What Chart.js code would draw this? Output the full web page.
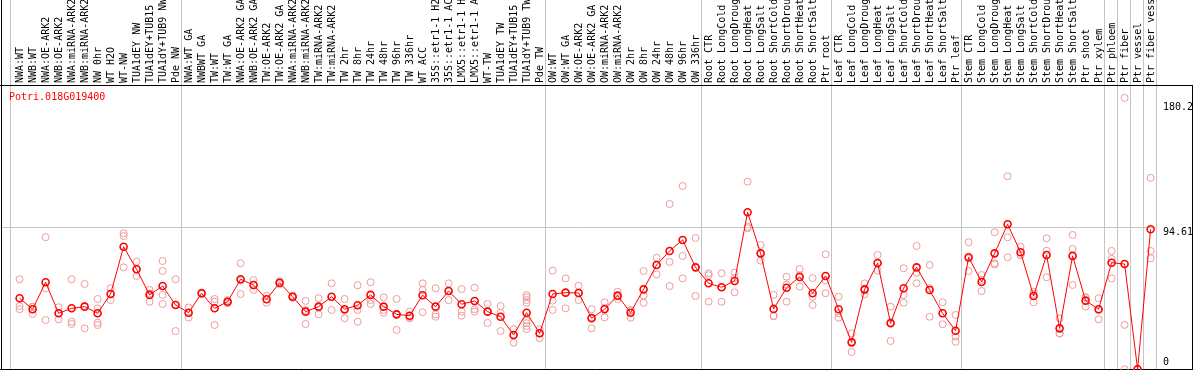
<html>
<head>
    <title>Potri.018G019400</title>
    <script src="https://cdn.jsdelivr.net/npm/chart.js@4.4.1/dist/chart.umd.min.js"></script>
    <style>
        body { margin: 0; background: #fff; }
        #wrap { width: 1194px; height: 370px; }
    </style>
</head>
<body>
<div id="wrap"><canvas id="chart" width="1194" height="370"></canvas></div>
<script>
    const geneName = 'Potri.018G019400';

    const labels = [
        'NWA:WT', 'NWB:WT', 'NWA:OE-ARK2', 'NWB:OE-ARK2', 'NWA:miRNA-ARK2', 'NWB:miRNA-ARK2',
        'NW 0hr', 'WT H2O', 'WT-NW', 'TUA1dEY NW', 'TUA1dEY+TUB15', 'TUA1dY+TUB9 NW', 'Pde NW',
        'NWA:WT GA', 'NWBWT GA', 'TW:WT', 'TW:WT GA', 'NWA:OE-ARK2 GA', 'NWB:OE-ARK2 GA',
        'TW:OE-ARK2', 'TW:OE-ARK2 GA', 'NWA:miRNA-ARK2', 'NWB:miRNA-ARK2', 'TW:miRNA-ARK2',
        'TW:miRNA-ARK2', 'TW 2hr', 'TW 8hr', 'TW 24hr', 'TW 48hr', 'TW 96hr', 'TW 336hr',
        'WT ACC', '35S::etr1-1 H2', '35S::etr1-1 AC', 'LMX5::etr1-1 H', 'LMX5::etr1-1 A',
        'WT-TW', 'TUA1dEY TW', 'TUA1dEY+TUB15', 'TUA1dY+TUB9 TW', 'Pde TW',
        'OW:WT', 'OW:WT GA', 'OW:OE-ARK2', 'OW:OE-ARK2 GA', 'OW:miRNA-ARK2', 'OW:miRNA-ARK2',
        'OW 2hr', 'OW 8hr', 'OW 24hr', 'OW 48hr', 'OW 96hr', 'OW 336hr',
        'Root CTR', 'Root LongCold', 'Root LongDroug', 'Root LongHeat', 'Root LongSalt',
        'Root ShortCold', 'Root ShortDrou', 'Root ShortHeat', 'Root ShortSalt', 'Ptr root',
        'Leaf CTR', 'Leaf LongCold', 'Leaf LongDroug', 'Leaf LongHeat', 'Leaf LongSalt',
        'Leaf ShortCold', 'Leaf ShortDrou', 'Leaf ShortHeat', 'Leaf ShortSalt', 'Ptr leaf',
        'Stem CTR', 'Stem LongCold', 'Stem LongDroug', 'Stem LongHeat', 'Stem LongSalt',
        'Stem ShortCold', 'Stem ShortDrou', 'Stem ShortHeat', 'Stem ShortSalt', 'Ptr shoot',
        'Ptr xylem', 'Ptr phloem', 'Ptr fiber', 'Ptr vessel', 'Ptr fiber vess'
    ];

    // last index of each sample group (separator drawn after it)
    const groupEnds = [12, 40, 52, 62, 72, 83, 84, 85, 86, 87];

    const means = [
        47.2, 39.9, 57.8, 37.2, 40.5, 41.6, 37.2, 50.0, 81.4, 66.4,
        49.4, 55.3, 42.7, 37.6, 50.5, 40.5, 44.9, 59.8, 56.0, 46.5,
        57.5, 48.2, 38.3, 41.6, 48.2, 39.9, 42.5, 49.4, 41.6, 36.5,
        35.6, 49.2, 41.6, 52.0, 43.2, 45.4, 38.3, 34.9, 22.8, 37.6,
        23.9, 50.0, 50.9, 50.7, 33.9, 39.9, 48.9, 37.6, 53.1, 69.3,
        78.6, 85.9, 67.7, 57.1, 54.5, 58.6, 104.3, 77.0, 40.1, 54.2,
        61.3, 50.5, 62.0, 39.9, 17.9, 53.1, 70.6, 30.6, 53.8, 67.7,
        52.7, 37.2, 25.6, 74.4, 58.0, 77.0, 96.3, 77.7, 48.7, 75.9,
        27.2, 75.3, 45.6, 39.9, 70.8, 69.9, 0, 93.0
    ];

    const replicates = [
        [59.8, 42.0, 39.9], [41.6, 41.4, 36.7], [87.7, 53.8, 32.7], [41.2, 37.2, 33.2],
        [59.8, 31.6, 30.1], [56.7, 42.0, 27.2], [46.7, 40.5, 31.0, 29.4], [53.8, 50.0, 46.0],
        [90.3, 88.5, 67.7], [71.5, 66.4, 62.0], [52.7, 50.4, 44.9], [71.9, 65.3, 49.4, 43.4],
        [59.8, 42.9, 25.4], [41.0, 37.6, 34.3], [51.0, 50.5, 50.0], [46.7, 44.9, 29.4],
        [46.0, 44.9, 43.8], [70.4, 59.0, 50.0], [59.3, 56.0, 52.7], [48.7, 46.5, 44.2],
        [58.5, 57.5, 56.5], [49.0, 48.2, 47.4], [45.4, 39.4, 30.1], [47.2, 41.1, 36.5],
        [57.1, 48.1, 39.4], [46.7, 39.1, 33.9], [55.8, 39.4, 31.6], [57.8, 46.0, 43.4],
        [47.8, 39.4, 37.6], [46.7, 36.7, 26.1], [38.3, 34.6, 33.9], [57.1, 52.7, 37.9],
        [53.8, 36.5, 34.9], [57.1, 52.0, 46.0], [53.3, 38.3, 35.6], [54.2, 39.9, 38.3],
        [43.4, 38.3, 30.8], [42.0, 37.5, 25.4], [26.6, 22.8, 17.7],
        [49.3, 47.8, 46.0, 44.2, 32.3, 30.6, 28.8, 26.6],
        [26.6, 23.9, 20.6], [65.5, 45.6, 39.4], [60.4, 50.9, 40.5], [55.5, 50.7, 46.0],
        [39.9, 34.6, 27.2], [44.5, 40.7, 34.5], [51.5, 48.5, 46.7], [39.4, 39.1, 34.3],
        [65.3, 48.9, 44.2], [74.1, 69.3, 63.1], [109.8, 71.3, 55.3], [121.7, 75.3, 60.4],
        [87.2, 67.7, 48.7], [63.8, 62.5, 44.9], [63.8, 54.5, 44.9], [64.2, 60.5, 51.1],
        [124.6, 94.6, 93.7], [82.6, 77.0, 72.1], [49.4, 35.6, 35.3], [61.5, 56.2, 44.9],
        [66.6, 62.4, 54.9], [60.6, 48.2, 42.7], [76.4, 59.1, 50.5], [48.2, 37.2, 34.3],
        [23.9, 18.3, 11.5], [57.1, 52.4, 49.8], [75.9, 70.4, 65.5], [41.6, 31.4, 18.8],
        [67.1, 49.4, 44.2], [81.9, 64.1, 57.1], [69.3, 53.9, 34.9], [44.5, 37.2, 29.9],
        [36.1, 21.7, 18.3], [84.4, 73.5, 65.3], [62.6, 59.4, 52.0], [91.0, 70.4, 69.6],
        [128.2, 87.7, 74.4], [81.4, 75.9, 75.8], [51.5, 50.1, 44.5], [87.0, 78.8, 61.1],
        [33.9, 23.9, 23.8], [89.2, 79.9, 56.0], [47.8, 47.4, 41.6], [47.2, 39.3, 33.2],
        [78.6, 73.4, 60.4], [180.2, 29.5, 0], [0, 0, 0], [127.1, 78.6, 73.7]
    ];

    const yTicks = [0, 94.61, 180.2];
    const yTickShift = [-7, 6, 9];
    const refLine = 94.61;
    const yMax = 188.8;

    const monoFont = '10px "DejaVu Sans Mono", "Liberation Mono", monospace';

    const meanPoints = means.map((v, i) => ({x: i, y: v}));
    const repPoints = [];
    replicates.forEach((list, i) => list.forEach(v => repPoints.push({x: i, y: v})));

    const frame = {
        id: 'frame',
        beforeDatasetsDraw(chart) {
            const {ctx, scales: {x, y}} = chart;
            const crisp = v => Math.round(v) + 0.5;
            ctx.save();
            ctx.lineWidth = 1;
            ctx.strokeStyle = '#c4c4c4';
            ctx.beginPath();
            const x0 = crisp(x.getPixelForValue(0) - 9.6);
            ctx.moveTo(x0, 0); ctx.lineTo(x0, 370);
            let lastX = x0;
            groupEnds.forEach(i => {
                const px = crisp(x.getPixelForValue(i) + 5.4);
                ctx.moveTo(px, 0); ctx.lineTo(px, 370);
                lastX = px;
            });
            const gy = crisp(y.getPixelForValue(refLine));
            ctx.moveTo(1, gy); ctx.lineTo(lastX, gy);
            ctx.stroke();

            ctx.strokeStyle = '#000';
            ctx.beginPath();
            ctx.moveTo(1.5, 0); ctx.lineTo(1.5, 370);
            ctx.moveTo(0, 85.5); ctx.lineTo(1193, 85.5);
            ctx.moveTo(0, 369.5); ctx.lineTo(1193, 369.5);
            ctx.moveTo(1192.5, 85); ctx.lineTo(1192.5, 370);
            ctx.stroke();

            ctx.font = monoFont;
            ctx.textBaseline = 'middle';
            ctx.textAlign = 'left';
            ctx.fillStyle = '#ff0000';
            ctx.fillText(geneName, 9, 97);
            ctx.fillStyle = '#000';
            yTicks.forEach((v, k) => {
                ctx.fillText(String(v), 1163, y.getPixelForValue(v) + yTickShift[k]);
            });
            ctx.restore();
        }
    };

    new Chart(document.getElementById('chart'), {
        type: 'line',
        data: {
            datasets: [{
                label: 'mean',
                data: meanPoints,
                borderColor: '#ff0000',
                borderWidth: 1,
                pointRadius: 3.5,
                pointBorderWidth: 1.6,
                pointBorderColor: '#ff0000',
                pointBackgroundColor: 'rgba(0,0,0,0)',
                tension: 0,
                clip: false
            }, {
                label: 'replicates',
                data: repPoints,
                showLine: false,
                pointRadius: 3.5,
                pointBorderWidth: 1,
                pointBorderColor: '#ee9a9a',
                pointBackgroundColor: 'rgba(0,0,0,0)',
                clip: false
            }]
        },
        options: {
            responsive: false,
            animation: false,
            layout: {autoPadding: false, padding: {left: 13.1, right: 36.9, top: 0, bottom: 0.7}},
            plugins: {legend: {display: false}, tooltip: {enabled: false}},
            scales: {
                x: {
                    type: 'linear',
                    position: 'top',
                    min: -0.5,
                    max: 87.5,
                    afterBuildTicks: s => { s.ticks = labels.map((l, i) => ({value: i})); },
                    afterFit: s => { s.height = 85; s.paddingLeft = 0; s.paddingRight = 0; },
                    grid: {display: false, drawTicks: false},
                    border: {display: false},
                    ticks: {
                        autoSkip: false,
                        minRotation: 90,
                        maxRotation: 90,
                        padding: 2,
                        labelOffset: 13,
                        color: '#000',
                        font: {family: '"DejaVu Sans Mono", "Liberation Mono", monospace', size: 10},
                        callback: v => labels[v]
                    }
                },
                y: {
                    type: 'linear',
                    display: false,
                    min: 0,
                    max: yMax,
                    ticks: {display: false},
                    afterFit: s => { s.paddingTop = 0; s.paddingBottom = 0; }
                }
            }
        },
        plugins: [frame]
    });
</script>
</body>
</html>
